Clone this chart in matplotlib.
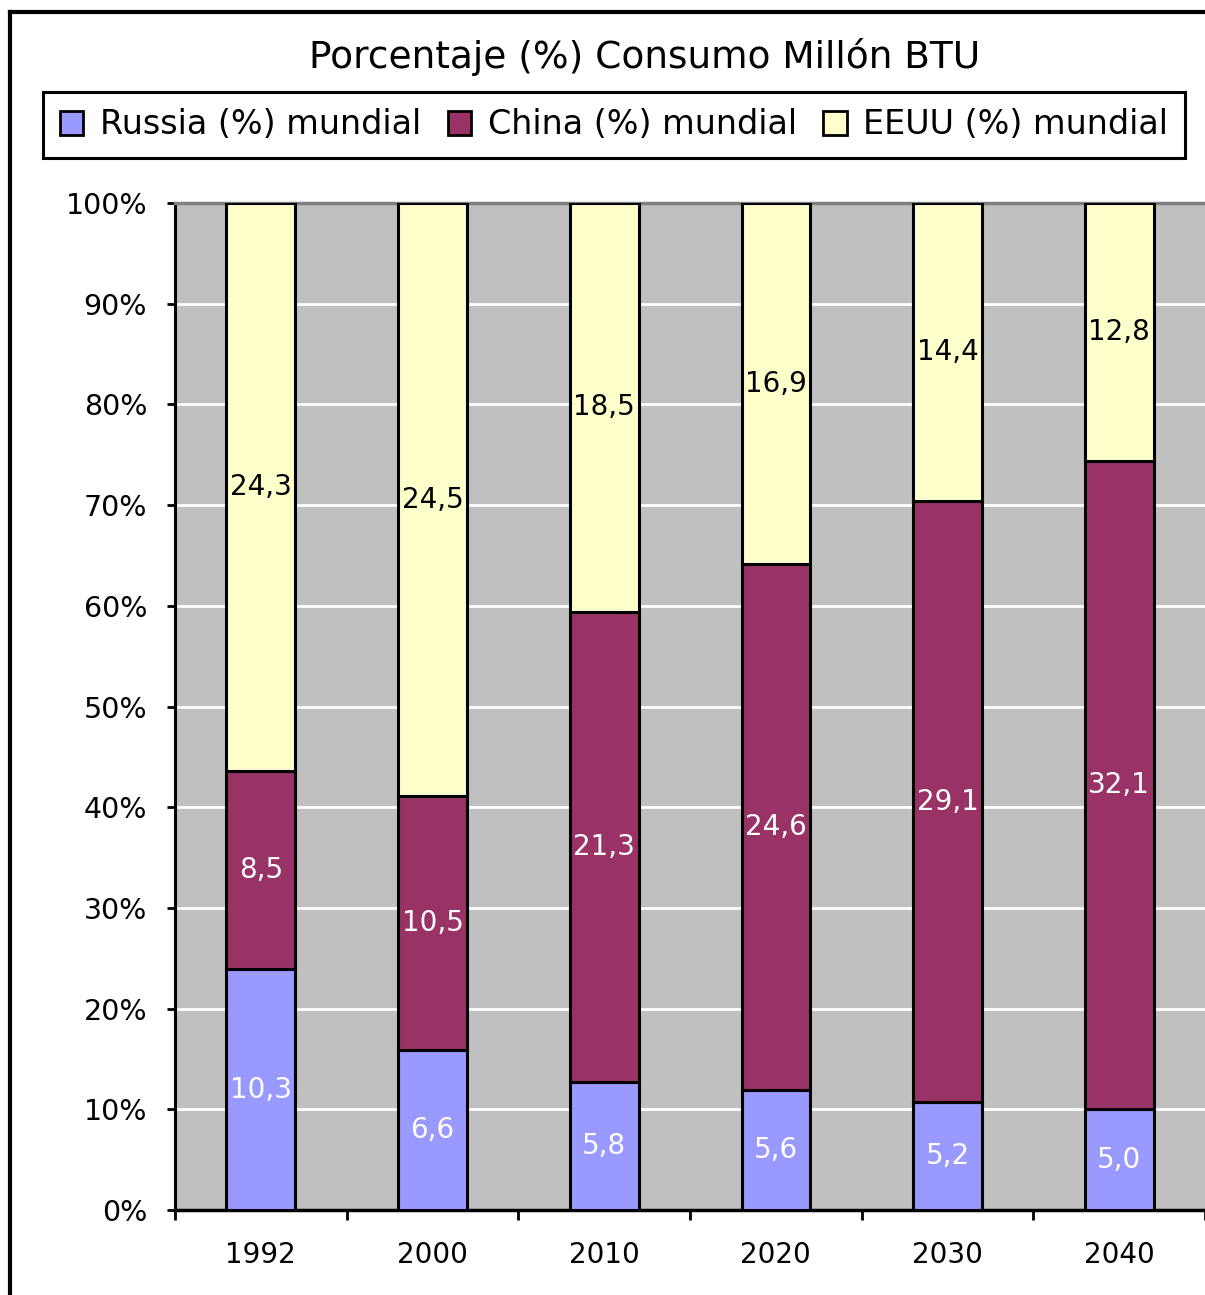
import numpy as np
import matplotlib.pyplot as plt
from matplotlib.lines import Line2D
from matplotlib.patches import Patch

years = ['1992', '2000', '2010', '2020', '2030', '2040']
russia = [10.3, 6.6, 5.8, 5.6, 5.2, 5.0]
china = [8.5, 10.5, 21.3, 24.6, 29.1, 32.1]
eeuu = [24.3, 24.5, 18.5, 16.9, 14.4, 12.8]
series_names = ['Russia (%) mundial', 'China (%) mundial', 'EEUU (%) mundial']
colors = ['#9999FF', '#993366', '#FFFFCC']
text_colors = ['white', 'white', 'black']

vals = np.array([russia, china, eeuu])
pct = vals / vals.sum(axis=0) * 100

fig = plt.figure(figsize=(12.05, 12.95), dpi=100)
ax = fig.add_axes([175/1205, 1 - 1210/1295, 1 - 175/1205, (1210 - 203)/1295])
ax.set_facecolor('#C0C0C0')

x = np.arange(len(years))
bottom = np.zeros(len(years))
for i in range(3):
    ax.bar(x, pct[i], 0.4, bottom=bottom, color=colors[i], edgecolor='black',
           linewidth=2.2, zorder=3)
    for j in range(len(years)):
        ax.text(x[j], bottom[j] + pct[i][j] / 2, f'{vals[i][j]:.1f}'.replace('.', ','),
                ha='center', va='center', fontsize=20, color=text_colors[i], zorder=4)
    bottom += pct[i]

ax.set_xlim(-0.5, len(years) - 0.5)
ax.set_ylim(0, 100)
ax.set_yticks(np.arange(0, 101, 10))
ax.set_yticklabels([f'{v}%' for v in range(0, 101, 10)], fontsize=20.5)
ax.yaxis.grid(True, color='white', linewidth=2, zorder=1)
ax.set_xticks(x)
ax.set_xticklabels(years, fontsize=20)
ax.tick_params(axis='x', length=0, pad=22)
ax.set_xticks(np.arange(-0.5, len(years), 1), minor=True)
ax.tick_params(axis='x', which='minor', length=7, width=2, direction='out')
ax.tick_params(axis='y', length=6, width=2, direction='out', pad=14)
ax.spines['left'].set_linewidth(2.2)
ax.spines['bottom'].set_linewidth(2.5)
ax.spines['top'].set_color('#808080')
ax.spines['top'].set_linewidth(2.5)
ax.spines['right'].set_visible(False)

fig.text(645/1205, 1 - 57/1295, 'Porcentaje (%) Consumo Millón BTU',
         ha='center', va='center', fontsize=27)

handles = [Patch(facecolor=c, edgecolor='black', linewidth=2) for c in colors]
leg = fig.legend(handles, series_names, ncol=3, loc='center',
                 bbox_to_anchor=(614/1205, 1 - 125/1295), fontsize=24,
                 frameon=True, fancybox=False, edgecolor='black', framealpha=1,
                 handlelength=0.7, handleheight=0.7, handletextpad=0.5,
                 columnspacing=0.8, borderpad=0.5, borderaxespad=0)
leg.get_frame().set_linewidth(2.2)

fig.add_artist(Line2D([10/1205, 10/1205], [0, 1 - 12/1295], color='black',
                      linewidth=3, transform=fig.transFigure))
fig.add_artist(Line2D([10/1205, 1], [1 - 12/1295, 1 - 12/1295], color='black',
                      linewidth=3, transform=fig.transFigure))

fig.savefig('out.png', dpi=100)
